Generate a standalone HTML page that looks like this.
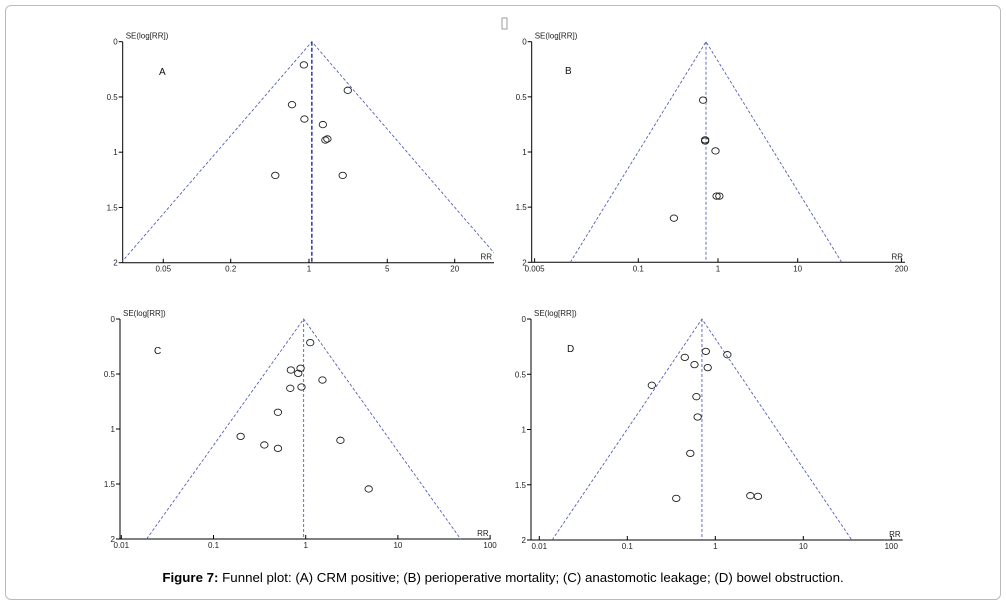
<!DOCTYPE html>
<html><head><meta charset="utf-8"><style>
body{margin:0;background:#fff;width:1006px;height:604px;overflow:hidden;font-family:"Liberation Sans",sans-serif}
#frame{position:absolute;left:5px;top:5px;width:994px;height:593px;border:1px solid #bbb;border-radius:6px}
#cap{position:absolute;left:0;width:1006px;top:570px;text-align:center;font-size:13.3px;color:#000}
svg text{font-family:"Liberation Sans",sans-serif}
</style></head><body>
<div id="frame"></div>
<svg id="svg" width="1006" height="604" style="position:absolute;left:0;top:0">
<rect x="502" y="18" width="5" height="11" fill="none" stroke="#888" stroke-width="0.8"/>
</svg>
<div id="cap"><b>Figure 7:</b> Funnel plot: (A) CRM positive; (B) perioperative mortality; (C) anastomotic leakage; (D) bowel obstruction.</div>
<script>
// Panel A
const aRR=[0.90,2.22,0.705,0.91,1.33,1.40,1.46,0.50,2.0];
const aSE=[0.21,0.44,0.57,0.70,0.75,0.89,0.88,1.21,1.21];
const aTicks=[0.05,0.2,1,5,20];
const aPooled=1.06;
// Panel B
const bRR=[0.65,0.69,0.69,0.93,0.96,1.04,0.28];
const bSE=[0.53,0.89,0.90,0.99,1.40,1.40,1.60];
const bTicks=[0.005,0.1,1,10,200];
const bPooled=0.707;
// Panel C
const cRR=[1.12,0.69,0.88,0.83,1.52,0.68,0.90,0.50,0.197,0.356,0.50,2.38,4.82];
const cSE=[0.215,0.464,0.448,0.494,0.555,0.630,0.618,0.848,1.067,1.145,1.176,1.103,1.545];
const cTicks=[0.01,0.1,1,10,100];
const cPooled=0.95;
// Panel D
const dRR=[0.78,1.37,0.45,0.58,0.82,0.19,0.61,0.63,0.52,0.36,2.50,3.05];
const dSE=[0.293,0.323,0.347,0.413,0.44,0.60,0.703,0.887,1.216,1.623,1.599,1.605];
const dTicks=[0.01,0.1,1,10,100];
const dPooled=0.705;
const seTicks=[0,0.5,1,1.5,2];
const seTickLabels=["0","0.5","1","1.5","2"];

const NS="http://www.w3.org/2000/svg";
const svg=document.getElementById('svg');
function mk(t,a,p){const e=document.createElementNS(NS,t);for(const k in a)e.setAttribute(k,a[k]);(p||svg).appendChild(e);return e;}

const panels=[
 {id:'a',L:'A',rr:aRR,se:aSE,ticks:aTicks,pooled:aPooled,ax:122.7,ax2:494,y0:41.7,y2:262.7,ref:1,refx:309,dec:112,lx:159,ly:75,dark:true},
 {id:'b',L:'B',rr:bRR,se:bSE,ticks:bTicks,pooled:bPooled,ax:531.7,ax2:905,y0:41.7,y2:262.3,ref:1,refx:718,dec:79.7,lx:565,ly:74},
 {id:'c',L:'C',rr:cRR,se:cSE,ticks:cTicks,pooled:cPooled,ax:120,ax2:490.7,y0:319,y2:539,ref:1,refx:305.7,dec:92.2,lx:154,ly:354},
 {id:'d',L:'D',rr:dRR,se:dSE,ticks:dTicks,pooled:dPooled,ax:531,ax2:902.7,y0:319,y2:540,ref:1,refx:715.3,dec:88,lx:567,ly:352}
];
panels.forEach(P=>{
 const g=mk('g',{});
 
 
 const X=v=>P.refx+Math.log10(v/P.ref)*P.dec;
 const Y=s=>P.y0+s*(P.y2-P.y0)/2;
 const ya=mk('line',{x1:P.ax,y1:P.y0,x2:P.ax,y2:P.y2,stroke:'#000','stroke-width':1},g);
 
 
 const xa=mk('line',{x1:P.ax,y1:P.y2,x2:P.ax2,y2:P.y2,stroke:'#000','stroke-width':1},g);
 
 
 seTicks.forEach((s,i)=>{
  mk('line',{x1:P.ax-4,y1:Y(s),x2:P.ax,y2:Y(s),stroke:'#000'},g);
  const t=mk('text',{x:P.ax-5,y:Y(s)+3,'font-size':8,'text-anchor':'end',fill:'#222'},g);
  t.textContent=seTickLabels[i];
  
  
 });
 P.ticks.forEach(v=>{
  const x=X(v);
  mk('line',{x1:x,y1:P.y2-4,x2:x,y2:P.y2,stroke:'#000'},g);
  const t=mk('text',{x:x,y:P.y2+9,'font-size':8,'text-anchor':'middle',fill:'#222'},g);
  t.textContent=String(v);
  
  
 });
 const yt=mk('text',{x:P.ax+3,y:P.y0-3,'font-size':8,fill:'#222'},g);
 yt.textContent='SE(log[RR])';
 
 
 const xt=mk('text',{x:P.ax2-2,y:P.y2-3,'font-size':8,'text-anchor':'end',fill:'#222'},g);
 xt.textContent='RR';
 
 
 const lt=mk('text',{x:P.lx,y:P.ly,'font-size':10,fill:'#111'},g);
 lt.textContent=P.L;
 
 
 const px=X(P.pooled), w=1.96*2/Math.LN10*P.dec;
 const clip=mk('clipPath',{id:'cl'+P.id},g);
 mk('rect',{x:P.ax,y:P.y0-2,width:P.ax2-P.ax,height:P.y2-P.y0+2},clip);
 const fn=mk('polyline',{points:`${px-w},${P.y2} ${px},${P.y0} ${px+w},${P.y2}`,fill:'none',stroke:'#5560b8','stroke-width':0.9,'stroke-dasharray':'3,2','clip-path':`url(#cl${P.id})`},g);
 
 
 const pl=mk('line',{x1:px,y1:P.y0,x2:px,y2:P.y2,stroke:P.dark?'#2a3aa8':'#5560b8','stroke-width':P.dark?1.5:0.9,'stroke-dasharray':P.dark?'4,2':'3,2'},g);
 
 
 P.rr.forEach((v,i)=>{
  const c=mk('ellipse',{cx:X(v),cy:Y(P.se[i]),rx:3.7,ry:3.2,fill:'none',stroke:'#222','stroke-width':0.9},g);
  
  
 });
});
</script>
</body></html>
